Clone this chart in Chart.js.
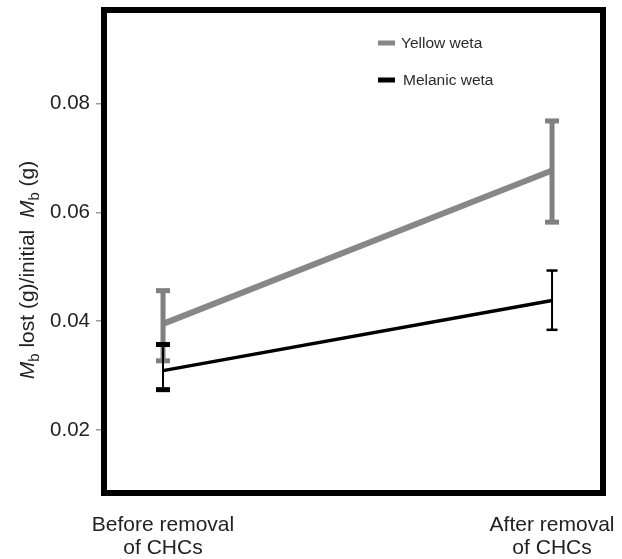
<!DOCTYPE html>
<html><head><meta charset="utf-8">
<script src="https://cdn.jsdelivr.net/npm/chart.js@4.4.0/dist/chart.umd.min.js"></script>
<style>html,body{margin:0;padding:0;background:#fff;}#wrap{width:622px;height:559px;}</style>
</head><body><div id="wrap"><canvas id="c" width="622" height="559"></canvas></div>
<script>
// ---- data ----
const categories = [['Before removal', 'of CHCs'], ['After removal', 'of CHCs']];
const categoryPositions = [0, 1];
const seriesNames = ['Yellow weta', 'Melanic weta'];
const yellowMean  = [0.0395, 0.0677];
const yellowUpper = [0.0456, 0.0768];
const yellowLower = [0.0327, 0.0582];
const melanicMean  = [0.0309, 0.0438];
const melanicUpper = [0.0357, 0.0493];
const melanicLower = [0.0274, 0.0384];
const yTickValues = [0.02, 0.04, 0.06, 0.08];

const FONT = "'Liberation Sans', Arial, Helvetica, sans-serif";
const GREY = '#878787';

const toPoints = (arr) => categoryPositions.map((x, i) => ({x: x, y: arr[i]}));

const errorBarPlugin = {
  id: 'errorBars',
  afterDatasetsDraw(chart) {
    const ctx = chart.ctx;
    const xs = chart.scales.x, ys = chart.scales.y;
    chart.data.datasets.forEach((ds) => {
      if (!ds.errUpper) return;
      ds.data.forEach((p, i) => {
        const st = ds.errStyle[i];
        const x = xs.getPixelForValue(p.x);
        const yu = ys.getPixelForValue(ds.errUpper[i]);
        const yl = ys.getPixelForValue(ds.errLower[i]);
        ctx.save();
        ctx.fillStyle = ds.errColor;
        ctx.fillRect(x - st.stem / 2, yu, st.stem, yl - yu);
        ctx.fillRect(x - st.capW / 2, yu - st.capH / 2, st.capW, st.capH);
        ctx.fillRect(x - st.capW / 2, yl - st.capH / 2, st.capW, st.capH);
        ctx.restore();
      });
    });
  }
};

const framePlugin = {
  id: 'frame',
  afterDraw(chart) {
    const {ctx, chartArea: a} = chart;
    ctx.save();
    ctx.strokeStyle = '#000';
    ctx.lineWidth = 6;
    ctx.lineJoin = 'miter';
    ctx.strokeRect(a.left, a.top, a.right - a.left, a.bottom - a.top);
    ctx.restore();
  }
};

const legendPlugin = {
  id: 'customLegend',
  afterDraw(chart) {
    const {ctx, chartArea: a} = chart;
    const items = chart.data.datasets;
    ctx.save();
    ctx.font = '15.5px ' + FONT;
    ctx.textBaseline = 'middle';
    const rows = [{y: a.top + 33, tx: a.left + 297}, {y: a.top + 70, tx: a.left + 299}];
    items.forEach((ds, i) => {
      const r = rows[i];
      ctx.fillStyle = ds.borderColor;
      ctx.fillRect(a.left + 274, r.y - 2.5, 17, 5);
      ctx.fillStyle = '#2a2a2a';
      ctx.fillText(ds.label, r.tx, r.y + 1);
    });
    ctx.restore();
  }
};

const yTitlePlugin = {
  id: 'yTitle',
  afterDraw(chart) {
    const ctx = chart.ctx;
    const parts = [
      {t: 'M', f: 'italic 21px ' + FONT, dy: 0},
      {t: 'b', f: '15px ' + FONT, dy: 5},
      {t: ' lost (g)/initial  ', f: '21px ' + FONT, dy: 0},
      {t: 'M', f: 'italic 21px ' + FONT, dy: 0},
      {t: 'b', f: '15px ' + FONT, dy: 5},
      {t: ' (g)', f: '21px ' + FONT, dy: 0}
    ];
    let total = 0;
    parts.forEach(p => { ctx.font = p.f; p.w = ctx.measureText(p.t).width; total += p.w; });
    ctx.save();
    ctx.translate(34, 270);
    ctx.rotate(-Math.PI / 2);
    ctx.fillStyle = '#222';
    ctx.textBaseline = 'alphabetic';
    let x = -total / 2;
    parts.forEach(p => { ctx.font = p.f; ctx.fillText(p.t, x, p.dy); x += p.w; });
    ctx.restore();
  }
};

const noPad = (s) => { s.paddingLeft = 0; s.paddingRight = 0; s.paddingTop = 0; s.paddingBottom = 0; };

new Chart(document.getElementById('c'), {
  type: 'line',
  data: {
    datasets: [
      {
        label: seriesNames[0],
        data: toPoints(yellowMean),
        borderColor: GREY,
        borderWidth: 6,
        pointRadius: 0,
        errUpper: yellowUpper,
        errLower: yellowLower,
        errColor: '#808080',
        errStyle: [{stem: 5, capW: 14, capH: 5}, {stem: 5, capW: 14, capH: 5}]
      },
      {
        label: seriesNames[1],
        data: toPoints(melanicMean),
        borderColor: '#000',
        borderWidth: 3.5,
        pointRadius: 0,
        errUpper: melanicUpper,
        errLower: melanicLower,
        errColor: '#000',
        errStyle: [{stem: 2, capW: 14, capH: 5}, {stem: 2, capW: 11, capH: 2.5}]
      }
    ]
  },
  options: {
    responsive: false,
    animation: false,
    devicePixelRatio: 1,
    layout: {padding: {top: 10, right: 19, left: 0, bottom: 0}},
    plugins: {legend: {display: false}, tooltip: {enabled: false}},
    scales: {
      x: {
        type: 'linear',
        min: -0.1517,
        max: 1.131,
        afterBuildTicks: (s) => { s.ticks = categoryPositions.map(v => ({value: v})); },
        afterFit: (s) => { s.height = 66; noPad(s); },
        ticks: {
          autoSkip: false,
          maxRotation: 0,
          padding: 20,
          color: '#222',
          font: {family: FONT, size: 21, lineHeight: 1.12},
          callback: (v) => categories[categoryPositions.indexOf(v)]
        },
        grid: {display: false, drawTicks: false},
        border: {display: false}
      },
      y: {
        type: 'linear',
        min: 0.0084,
        max: 0.0972,
        afterBuildTicks: (s) => { s.ticks = yTickValues.map(v => ({value: v})); },
        afterFit: (s) => { s.width = 104; noPad(s); },
        ticks: {
          padding: 6,
          color: '#222',
          font: {family: FONT, size: 20.5},
          callback: (v) => v.toFixed(2)
        },
        grid: {drawOnChartArea: false, drawTicks: true, tickLength: 8, color: '#999', lineWidth: 1.5},
        border: {display: false}
      }
    }
  },
  plugins: [errorBarPlugin, framePlugin, legendPlugin, yTitlePlugin]
});
</script>
</body></html>
